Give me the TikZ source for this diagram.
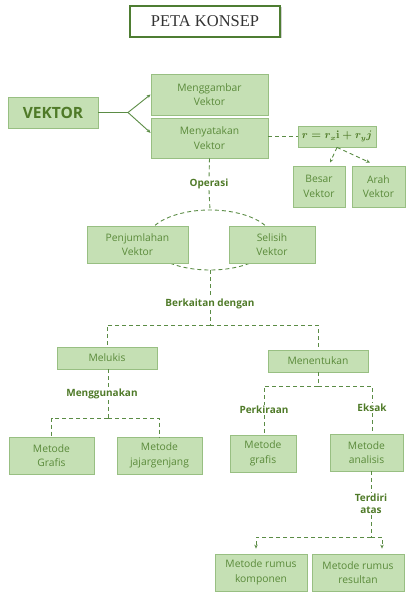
\documentclass[tikz,border=0pt]{standalone}
\usepackage{amsmath}
\usepackage{fontspec}
\setmainfont{Open Sans}
\newfontfamily\titlefont{Liberation Serif}
\usetikzlibrary{arrows.meta,shadows}
\definecolor{boxfill}{HTML}{C5E0B4}
\definecolor{boxline}{HTML}{98BF82}
\definecolor{boxtext}{HTML}{5A8A3A}
\definecolor{lbl}{HTML}{4F7A28}
\definecolor{ln}{HTML}{5B8C45}
\definecolor{titleline}{HTML}{4E7D32}
\begin{document}
\begin{tikzpicture}[x=1pt,y=-1pt,
 box/.style={draw=boxline, fill=boxfill, text=boxtext, font=\fontsize{10.3}{14.5}\selectfont, align=center, inner sep=0pt, line width=0.8pt},
 lab/.style={text=lbl, font=\bfseries\fontsize{10}{11}\selectfont, align=center, inner sep=1pt},
 dl/.style={draw=ln, dash pattern=on 4pt off 3pt, line width=0.9pt},
 sl/.style={draw=ln, line width=0.9pt},
 tip/.style={-{Stealth[length=4pt,width=3.5pt]}},
]
\useasboundingbox (0,0) rectangle (413,599);

% title
\node[draw=titleline, line width=2pt, fill=white, minimum width=150pt, minimum height=31pt, inner sep=0pt,
  drop shadow={shadow xshift=1.5pt, shadow yshift=-1.5pt, fill=black!35}, font=\titlefont\fontsize{16.5}{18}\selectfont, text=black!80]
  (title) at (205,21.5) {PETA KONSEP};

% ellipse behind operation boxes
\coordinate (etop) at (210,210);
\coordinate (ebot) at (210,270);
\draw[dl] (210,240) ellipse [x radius=63, y radius=30];

% boxes
\node[box, minimum width=90pt, minimum height=31pt, font=\bfseries\fontsize{15.5}{17}\selectfont, text=lbl] (vek) at (53,112.5) {VEKTOR};
\node[box, minimum width=117pt, minimum height=41pt] (gam) at (209.5,94.5) {Menggambar\\Vektor};
\node[box, minimum width=117pt, minimum height=40pt] (nyat) at (209.5,138) {Menyatakan\\Vektor};
\node[box, minimum width=78pt, minimum height=21pt, text=lbl, font=\boldmath\fontsize{10.5}{12}\selectfont] (form) at (337,136.5) {$r = r_x\mathbf{i} + r_y j$};
\node[box, minimum width=52pt, minimum height=41pt] (bes) at (319,186.5) {Besar\\Vektor};
\node[box, minimum width=53pt, minimum height=41pt] (arah) at (378.5,186.5) {Arah\\Vektor};
\node[box, minimum width=101pt, minimum height=37pt] (jum) at (137.5,244.5) {Penjumlahan\\Vektor};
\node[box, minimum width=86pt, minimum height=37pt] (sel) at (272,244.5) {Selisih\\Vektor};
\node[box, minimum width=100pt, minimum height=22pt] (luk) at (107,358) {Melukis};
\node[box, minimum width=100pt, minimum height=22pt] (ten) at (318,361) {Menentukan};
\node[box, minimum width=85pt, minimum height=37pt] (mgf) at (51.5,455.5) {Metode\\Grafis};
\node[box, minimum width=85pt, minimum height=37pt] (mjj) at (159.5,455.5) {Metode\\jajargenjang};
\node[box, minimum width=66pt, minimum height=37pt] (mgr) at (263,453.5) {Metode\\grafis};
\node[box, minimum width=73pt, minimum height=37pt] (man) at (366.5,452.5) {Metode\\analisis};
\node[box, minimum width=92pt, minimum height=37pt] (mko) at (261,572.5) {Metode rumus\\komponen};
\node[box, minimum width=92pt, minimum height=37pt] (mre) at (358,572.5) {Metode rumus\\resultan};

% labels
\node[lab] (op) at (209,184) {Operasi};
\node[lab] (berk) at (210,304) {Berkaitan dengan};
\node[lab] (meng) at (102,394) {Menggunakan};
\node[lab] (perk) at (264,410) {Perkiraan};
\node[lab] (eks) at (372,408) {Eksak};
\node[lab, font=\bfseries\fontsize{10}{12}\selectfont] (terd) at (371,504) {Terdiri\\atas};

% solid connectors
\coordinate (j1) at (128,112.5);
\draw[sl] (vek.east) -- (j1);
\draw[sl,tip] (j1) -- (gam.west);
\draw[sl,tip] (j1) -- (nyat.175);

% dashed connectors
\draw[dl] (form.west -| nyat.east) -- (form.west);
\draw[dl,tip] (form.south) -- ([xshift=11pt,yshift=3pt]bes.north);
\draw[dl,tip] (form.south) -- ([xshift=-8.5pt,yshift=3pt]arah.north);
\draw[dl] (nyat.south) -- (op.north);
\draw[dl] (op.south) -- (etop);
\draw[dl] (ebot) -- (berk.north);
\coordinate (jb) at (210,325);
\draw[dl] (berk.south) -- (jb);
\draw[dl] (jb) -| (luk.north);
\draw[dl] (jb) -| (ten.north);

\coordinate (jm) at (108,418);
\draw[dl] (luk.south -| jm) -- (meng.north -| jm);
\draw[dl] (meng.south -| jm) -- (jm);
\draw[dl] (jm) -| (mgf.north);
\draw[dl] (jm) -| (mjj.north);

\coordinate (jn) at (318,386);
\draw[dl] (ten.south) -- (jn);
\draw[dl] (jn) -| (perk.north);
\draw[dl] (jn) -| (eks.north);
\draw[dl] (perk.south) -- (perk.south |- mgr.north);
\draw[dl] (eks.south) -- (eks.south |- man.north);

\coordinate (jt) at (371,537);
\draw[dl] (man.south -| terd.north) -- (terd.north);
\draw[dl] (terd.south) -- (jt);
\draw[dl,tip] (jt) -| ([xshift=-5pt,yshift=5pt]mko.north);
\draw[dl,tip] (jt) -| ([xshift=24pt,yshift=5pt]mre.north);
\end{tikzpicture}
\end{document}
